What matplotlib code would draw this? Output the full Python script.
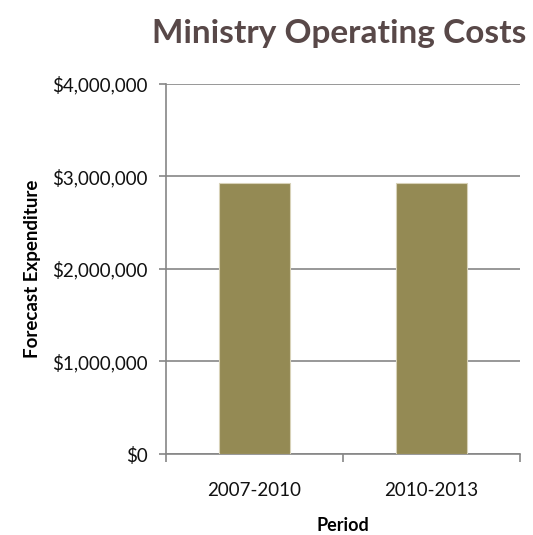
import matplotlib.pyplot as plt
import matplotlib.ticker as mticker

# Forecast expenditure per period
periods = ['2007-2010', '2010-2013']
costs = [2930000, 2930000]
y_ticks = [0, 1000000, 2000000, 3000000, 4000000]

plt.rcParams['font.family'] = ['Lato', 'DejaVu Sans']

fig = plt.figure(figsize=(5.33, 5.35), dpi=100)
ax = fig.add_axes([0.3114, 0.1514, 0.6642, 0.6916])

x = range(len(periods))
ax.bar(x, costs, width=0.4, color='#948A54', edgecolor='#D8D2B8', linewidth=0.8, zorder=3)

ax.set_xlim(-0.5, len(periods) - 0.5)
ax.set_ylim(0, 4000000)
ax.set_yticks(y_ticks)
ax.yaxis.set_major_formatter(mticker.FuncFormatter(lambda v, p: '${:,.0f}'.format(v)))

# category labels centred, tick marks on the category boundaries
ax.set_xticks(list(x))
ax.set_xticklabels(periods, fontsize=13.5, color='#111111')
ax.set_xticks([-0.5, 0.5, 1.5], minor=True)
ax.tick_params(axis='x', which='major', length=0, pad=20)
ax.tick_params(axis='x', which='minor', length=6, color='#868686', width=1.2)
ax.tick_params(axis='y', length=5, color='#868686', width=1.2, pad=8,
               labelsize=13.5, labelcolor='#111111')

ax.grid(axis='y', color='#868686', linewidth=1.2, zorder=0)
for side in ['top', 'right']:
    ax.spines[side].set_visible(False)
for side in ['left', 'bottom']:
    ax.spines[side].set_color('#868686')
    ax.spines[side].set_linewidth(1.2)

ax.set_xlabel('Period', fontsize=13, fontweight='bold', labelpad=13)
ax.set_ylabel('Forecast Expenditure', fontsize=13.5, fontweight='bold', labelpad=8)

fig.text(0.637, 0.938, 'Ministry Operating Costs', fontsize=24, fontweight='bold',
         color='#584848', ha='center', va='center')

fig.savefig('out.png', dpi=100)
